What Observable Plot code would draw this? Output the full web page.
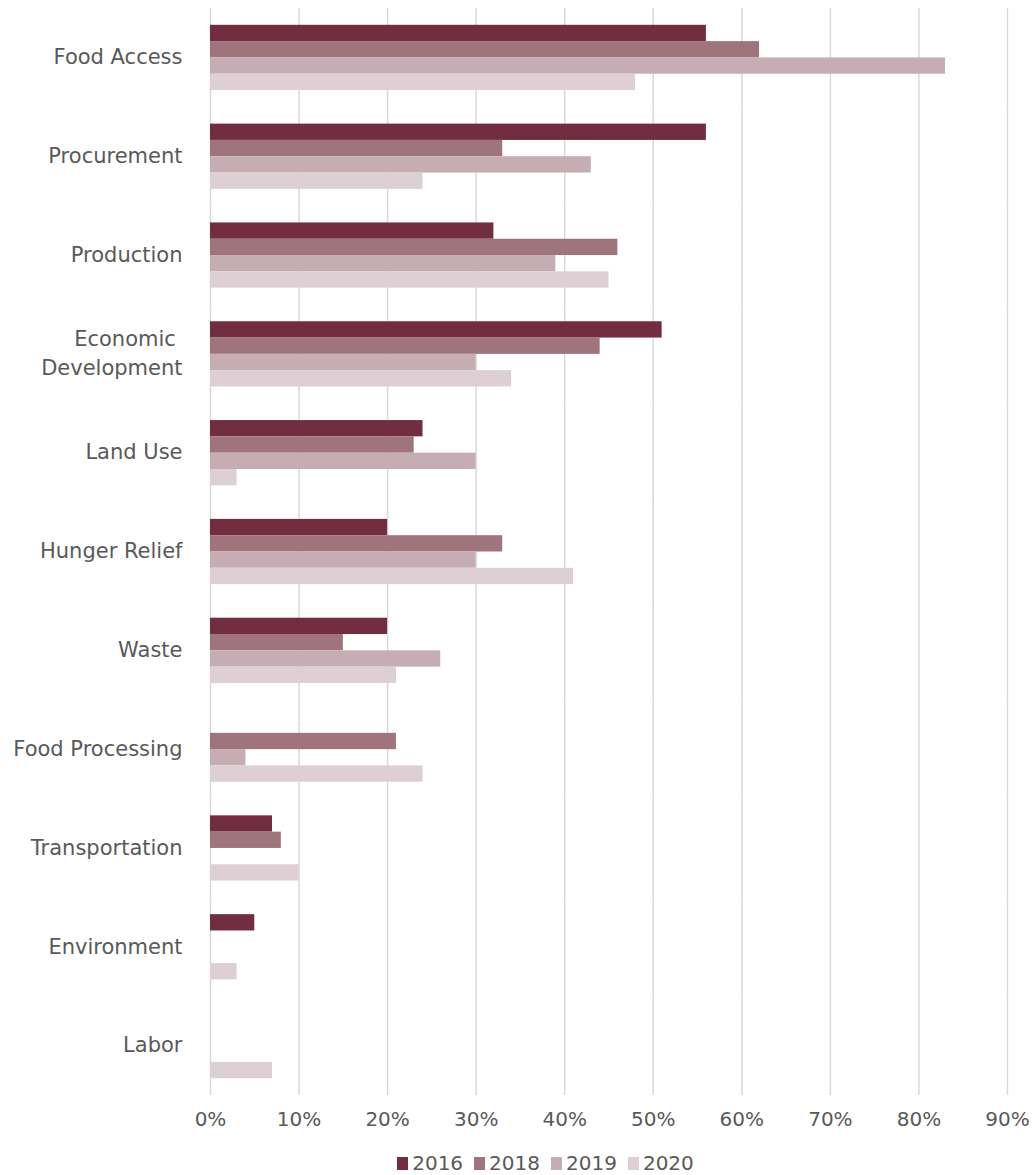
<!DOCTYPE html>
<html>
<head>
<meta charset="utf-8">
<script src="https://cdn.jsdelivr.net/npm/d3@7"></script>
<script src="https://cdn.jsdelivr.net/npm/@observablehq/plot@0.6"></script>
<style>
  body { margin: 0; background: #fff; font-family: "DejaVu Sans", sans-serif; }
  #chart { width: 1036px; }
  #legend { width: 1036px; display: flex; justify-content: center; align-items: center;
            padding-left: 66px; box-sizing: border-box; margin-top: 12px;
            font-size: 20px; color: #595959; line-height: 22px; }
  .item { display: flex; align-items: center; margin-right: 11px; }
  .sw { width: 11px; height: 13px; margin-right: 4px; display: inline-block; }
</style>
</head>
<body>
<div id="chart"></div>
<div id="legend"></div>
<script>
const categories = ["Food Access", "Procurement", "Production", "Economic Development", "Land Use",
  "Hunger Relief", "Waste", "Food Processing", "Transportation", "Environment", "Labor"];
const years = ["2016", "2018", "2019", "2020"];
const v2016 = [56, 56, 32, 51, 24, 20, 20, null, 7, 5, null];
const v2018 = [62, 33, 46, 44, 23, 33, 15, 21, 8, null, null];
const v2019 = [83, 43, 39, 30, 30, 30, 26, 4, null, null, null];
const v2020 = [48, 24, 45, 34, 3, 41, 21, 24, 10, 3, 7];
const colors = ["#722e40", "#a0747c", "#c6adb3", "#ddcfd3"];
const xTicks = [0, 10, 20, 30, 40, 50, 60, 70, 80, 90];

const series = [v2016, v2018, v2019, v2020];
const rows = [];
categories.forEach((c, i) => {
  years.forEach((y, j) => {
    const v = series[j][i];
    if (v != null) rows.push({category: c, year: y, value: v});
  });
});

const chart = Plot.plot({
  width: 1036,
  height: 1140,
  marginLeft: 210,
  marginRight: 29,
  marginTop: 8,
  marginBottom: 45,
  style: {fontFamily: "DejaVu Sans", fontSize: "20px", color: "#595959", background: "white"},
  x: {domain: [0, 90]},
  y: {domain: years, paddingInner: 0, paddingOuter: 1.03, round: false, axis: null},
  fy: {domain: categories, padding: 0, round: false},
  color: {domain: years, range: colors},
  marks: [
    Plot.gridX(xTicks, {stroke: "#d9d9d9", strokeOpacity: 1, strokeWidth: 1.5}),
    Plot.barX(rows, {x: "value", y: "year", fy: "category", fill: "year"}),
    Plot.axisX({ticks: xTicks, tickSize: 0, tickPadding: 16, tickFormat: d => d + "%", label: null, fill: "#595959"}),
    Plot.axisFy({anchor: "left", tickSize: 0, tickPadding: 28, label: null, fill: "#595959",
      fontSize: 21, lineHeight: 1.38, dy: -3,
      tickFormat: d => d === "Economic Development" ? "Economic \nDevelopment" : d})
  ]
});
document.getElementById("chart").appendChild(chart);

const legend = document.getElementById("legend");
years.forEach((y, i) => {
  const it = document.createElement("div");
  it.className = "item";
  const sw = document.createElement("span");
  sw.className = "sw";
  sw.style.background = colors[i];
  it.appendChild(sw);
  const t = document.createElement("span");
  t.textContent = y;
  it.appendChild(t);
  legend.appendChild(it);
});
</script>
</body>
</html>
